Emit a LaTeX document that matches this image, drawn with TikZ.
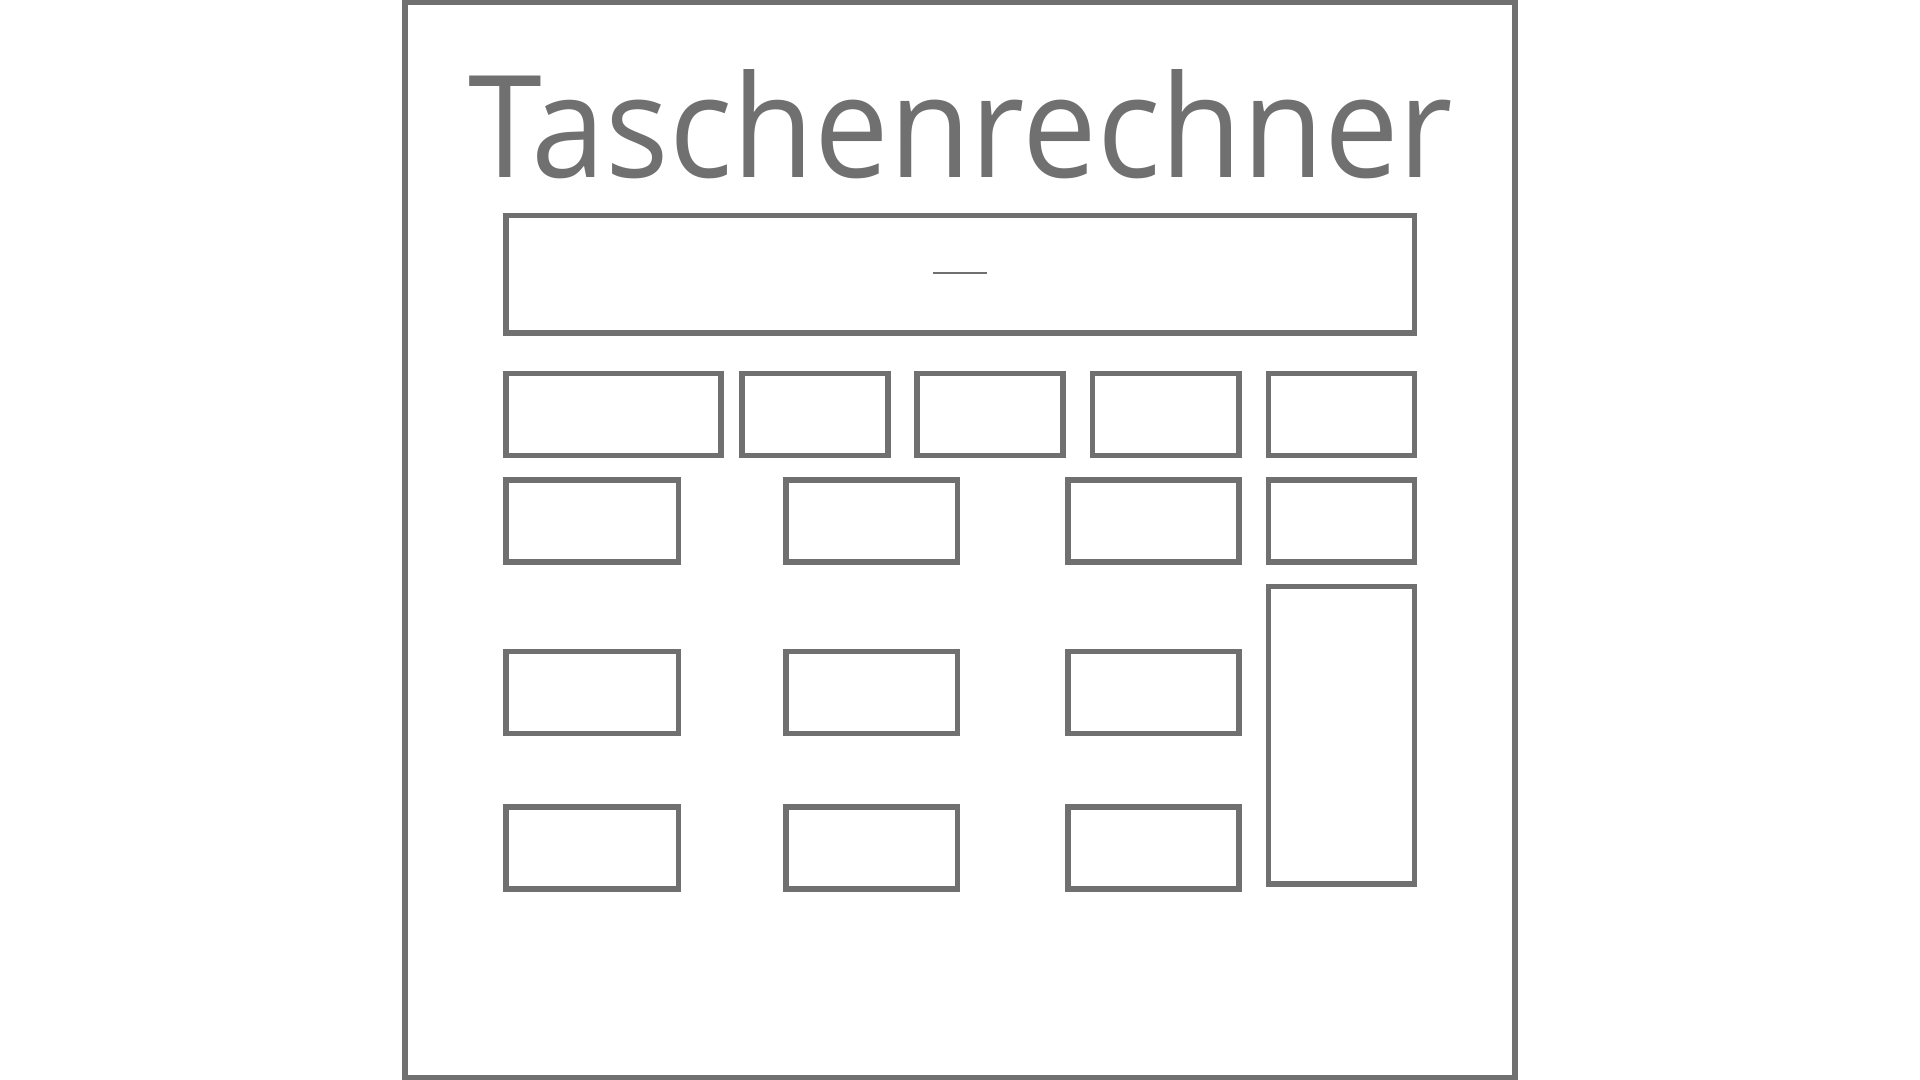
\documentclass[tikz,border=0pt]{standalone}
\usepackage{graphicx}
\usepackage{fontspec}
\setmainfont{Open Sans}
\definecolor{ink}{RGB}{112,112,112}
\newcommand\keybox[6][]{\node[box,#1,minimum width={(#4-#2)*0.5pt},minimum height={(#6-#3)*0.5pt}] (#5) at ({(#2+#4)/2},{(#3+#6)/2}) {};}
\begin{document}
\begin{tikzpicture}[x=0.5pt,y=-0.5pt,
  box/.style={draw=ink,line width=2.8pt,rectangle,inner sep=0pt,outer sep=0pt}]
\useasboundingbox (0,0) rectangle (1920,1080);
% frame
\keybox[line width=2.75pt]{405}{2.5}{1515}{frame}{1077.5}
% title
\node[text=ink,inner sep=0pt,anchor=base] (title) at (961,177.6) {\resizebox{492pt}{54pt}{Taschenrechner}};
% display
\keybox{505.7}{215.5}{1414.3}{display}{333.1}
\coordinate (curA) at (933,273);
\coordinate (curB) at (987,273);
\draw[ink,line width=0.7pt] (curA) -- (curB);
% row 1
\keybox{505.7}{373.5}{721.2}{ka}{455.5}
\keybox{742}{373.5}{887.8}{kb}{455.5}
\keybox{917.2}{373.5}{1062.9}{kc}{455.5}
\keybox{1092.3}{373.5}{1239.2}{kd}{455.5}
\keybox{1268.6}{373.5}{1414.3}{ke}{455.5}
% row 2
\keybox{505.7}{480}{678.4}{la}{562}
\keybox{786.1}{480}{957.6}{lb}{562}
\keybox{1067.8}{480}{1239.2}{lc}{562}
\keybox{1268.6}{480}{1414.3}{ld}{562}
% row 3
\keybox{505.7}{651.4}{678.4}{ma}{733.5}
\keybox{786.1}{651.4}{957.6}{mb}{733.5}
\keybox{1067.8}{651.4}{1239.2}{mc}{733.5}
\keybox{1268.6}{586.5}{1414.3}{tall}{884.1}
% row 4
\keybox{505.7}{807}{678.4}{na}{889}
\keybox{786.1}{807}{957.6}{nb}{889}
\keybox{1067.8}{807}{1239.2}{nc}{889}
\end{tikzpicture}
\end{document}
